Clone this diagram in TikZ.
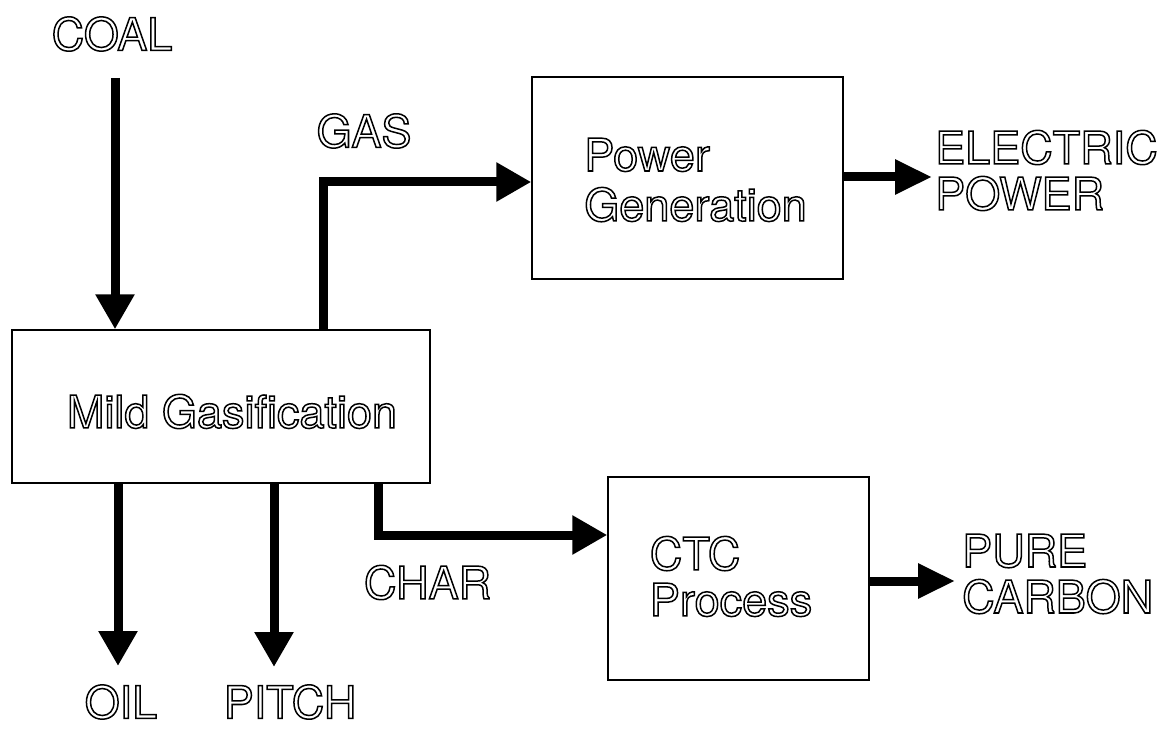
\documentclass[tikz,border=0pt]{standalone}
\usepackage{fontspec}
\setmainfont{TeX Gyre Heros}
\usetikzlibrary{arrows.meta}
\newcommand{\otx}[1]{\special{pdf:literal direct 1 Tr 1.5 w}#1\special{pdf:literal direct 0 Tr}}
\tikzset{
  procbox/.style={draw, line width=1.4pt, inner sep=0pt},
  lbl/.style={inner sep=0pt, font=\fontsize{45}{46}\selectfont},
  flow/.style={line width=9pt, line join=miter, -{Triangle[length=35pt,width=37pt]}},
  outflow/.style={line width=9pt, -{Triangle[length=37pt,width=33pt]}},
}
\begin{document}
\begin{tikzpicture}[x=1pt,y=-1pt]
\useasboundingbox (0,0) rectangle (1160,730);
% boxes
\node[procbox, minimum width=418pt, minimum height=153pt] (mg) at (221,406.5) {};
\node[procbox, minimum width=311pt, minimum height=202pt] (pg) at (687.5,178) {};
\node[procbox, minimum width=261pt, minimum height=203pt] (ctc) at (738.5,578.5) {};
% box texts
\node[lbl] (mgt) at (232,411.5) {\otx{Mild Gasification}};
\node[lbl, align=left, font=\fontsize{45}{50}\selectfont] (pgt) at (695.5,180) {\otx{Power\\Generation}};
\node[lbl, align=left, font=\fontsize{45}{46}\selectfont] (ctct) at (731,576.5) {\otx{CTC\\Process}};
% outside labels
\node[lbl] (coal) at (112,34) {\otx{COAL}};
\node[lbl] (gas) at (364,131) {\otx{GAS}};
\node[lbl] (char) at (427.5,582.5) {\otx{CHAR}};
\node[lbl] (oil) at (121,702) {\otx{OIL}};
\node[lbl] (pitch) at (290,702) {\otx{PITCH}};
\node[lbl, align=left, anchor=west] (elec) at (935,170.5) {\otx{ELECTRIC\\POWER}};
\node[lbl, align=left, anchor=west] (pure) at (962,574) {\otx{PURE\\CARBON}};
% connector coordinates
\coordinate (c0) at (115,78);
\coordinate (g0) at (323,330);
\coordinate (g1) at (323,182);
\coordinate (h0) at (378,483);
\coordinate (h1) at (378,535);
\coordinate (o1) at (118,666);
\coordinate (p1) at (274,667);
\coordinate (e1) at (932,177);
\coordinate (q1) at (955,581);
% connectors
\draw[flow] (c0) -- (c0 |- mg.north);
\draw[flow] (mg.north -| g0) -- (g1) -- (g1 -| pg.west);
\draw[flow] (mg.south -| h0) -- (h1) -- (h1 -| ctc.west);
\draw[flow] (mg.south -| o1) -- (o1);
\draw[flow] (mg.south -| p1) -- (p1);
\draw[outflow] (pg.east |- e1) -- (e1);
\draw[outflow] (ctc.east |- q1) -- (q1);
\end{tikzpicture}
\end{document}
